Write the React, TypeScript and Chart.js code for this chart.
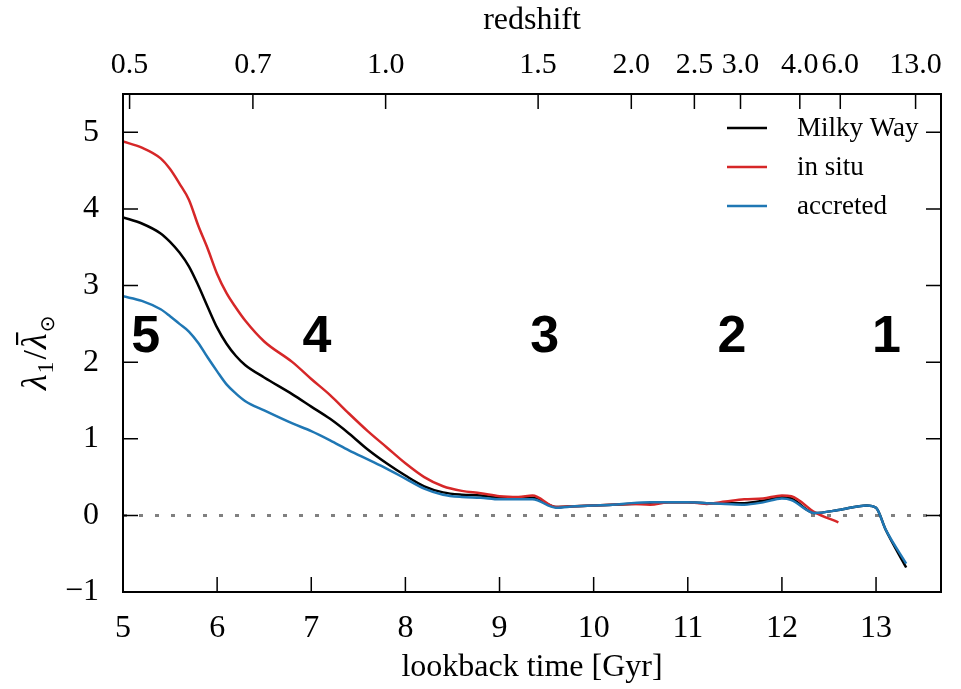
import React, { useEffect, useRef } from "react";
import { Chart, registerables } from "chart.js";

Chart.register(...registerables);

// ---- data ----
const lookbackTime = [
  5.0, 5.2, 5.4, 5.5, 5.6, 5.7, 5.8, 5.9, 6.0, 6.1, 6.2, 6.3, 6.5, 6.8, 7.0, 7.2, 7.4, 7.6, 7.8, 8.0,
  8.2, 8.4, 8.6, 8.8, 9.0, 9.2, 9.35, 9.6, 9.8, 10.0, 10.2, 10.4, 10.6, 10.8, 11.0, 11.2, 11.4, 11.6,
  11.8, 12.0, 12.1, 12.35, 12.6, 12.9, 13.0, 13.1, 13.32,
];
const milkyWay = [
  3.89, 3.81, 3.68, 3.57, 3.43, 3.25, 3.0, 2.72, 2.45, 2.24, 2.08, 1.96, 1.8, 1.58, 1.42, 1.26, 1.07,
  0.86, 0.68, 0.52, 0.38, 0.3, 0.27, 0.26, 0.23, 0.22, 0.23, 0.11, 0.12, 0.13, 0.14, 0.15, 0.16, 0.17,
  0.17, 0.16, 0.16, 0.16, 0.19, 0.24, 0.22, 0.03, 0.07, 0.13, 0.1, -0.18, -0.68,
];
const inSitu = [
  4.88, 4.8, 4.66, 4.52, 4.33, 4.12, 3.78, 3.48, 3.15, 2.9, 2.71, 2.54, 2.27, 2.0, 1.78, 1.57, 1.33,
  1.1, 0.89, 0.68, 0.5, 0.38, 0.32, 0.29, 0.25, 0.24, 0.26, 0.11, 0.12, 0.13, 0.14, 0.15, 0.14, 0.17,
  0.17, 0.15, 0.18, 0.21, 0.22, 0.26, 0.25, 0.04, -0.09, null, null, null, null,
];
const accreted = [
  2.86, 2.8, 2.69, 2.6, 2.5, 2.4, 2.25, 2.06, 1.88, 1.71, 1.59, 1.49, 1.37, 1.2, 1.1, 0.98, 0.85, 0.73,
  0.61, 0.48, 0.35, 0.27, 0.24, 0.23, 0.21, 0.21, 0.21, 0.1, 0.12, 0.13, 0.14, 0.16, 0.17, 0.17, 0.17,
  0.16, 0.15, 0.14, 0.17, 0.22, 0.2, 0.03, 0.07, 0.13, 0.1, -0.18, -0.63,
];

const xTicks = [5, 6, 7, 8, 9, 10, 11, 12, 13];
const yTicks = [-1, 0, 1, 2, 3, 4, 5];
const redshiftLabels = ["0.5", "0.7", "1.0", "1.5", "2.0", "2.5", "3.0", "4.0", "6.0", "13.0"];
const redshiftAt = [5.07, 6.38, 7.79, 9.41, 10.4, 11.07, 11.56, 12.19, 12.62, 13.42];

const regionLabels = ["5", "4", "3", "2", "1"];
const regionX = [5.24, 7.06, 9.48, 11.47, 13.11];
const regionY = [2.13, 2.13, 2.13, 2.13, 2.13];

const seriesNames = ["Milky Way", "in situ", "accreted"];
const seriesColors = ["#000000", "#d62728", "#1f77b4"];

const X_MIN = 5;
const X_MAX = 13.69;
const Y_MIN = -1;
const Y_MAX = 5.5;

const SERIF = "'Liberation Serif', 'Times New Roman', serif";
const SANS = "'Liberation Sans', Arial, sans-serif";

const pts = (ys: (number | null)[]) =>
  lookbackTime
    .map((x, i) => ({ x, y: ys[i] }))
    .filter((p) => p.y !== null) as { x: number; y: number }[];

const overlay = {
  id: "overlay",
  afterDatasetsDraw(chart: any) {
    const ctx = chart.ctx as CanvasRenderingContext2D;
    const { left, right, top, bottom } = chart.chartArea;
    const xs = chart.scales.x;
    const x2 = chart.scales.x2;
    const ys = chart.scales.y;
    ctx.save();

    // region numbers
    ctx.fillStyle = "#000";
    ctx.font = `bold 52px ${SANS}`;
    ctx.textAlign = "center";
    ctx.textBaseline = "alphabetic";
    regionLabels.forEach((t, i) => {
      ctx.fillText(t, xs.getPixelForValue(regionX[i]), ys.getPixelForValue(regionY[i]));
    });

    // legend
    ctx.font = `27px ${SERIF}`;
    ctx.textAlign = "left";
    ctx.textBaseline = "middle";
    seriesNames.forEach((name, i) => {
      const yy = top + 34 + i * 39;
      ctx.strokeStyle = seriesColors[i];
      ctx.lineWidth = 2.5;
      ctx.beginPath();
      ctx.moveTo(right - 214, yy);
      ctx.lineTo(right - 174, yy);
      ctx.stroke();
      ctx.fillStyle = "#000";
      ctx.fillText(name, right - 144, yy + 1);
    });

    // frame
    ctx.strokeStyle = "#000";
    ctx.lineWidth = 2;
    ctx.strokeRect(left, top, right - left, bottom - top);

    // inward ticks
    const TL = 15;
    ctx.lineWidth = 1.5;
    ctx.beginPath();
    xs.ticks.forEach((t: any) => {
      const px = xs.getPixelForValue(t.value);
      ctx.moveTo(px, bottom);
      ctx.lineTo(px, bottom - TL);
    });
    x2.ticks.forEach((t: any) => {
      const px = x2.getPixelForValue(t.value);
      ctx.moveTo(px, top);
      ctx.lineTo(px, top + TL);
    });
    ys.ticks.forEach((t: any) => {
      const py = ys.getPixelForValue(t.value);
      ctx.moveTo(left, py);
      ctx.lineTo(left + TL, py);
      ctx.moveTo(right, py);
      ctx.lineTo(right - TL, py);
    });
    ctx.stroke();
    ctx.restore();
  },
  afterDraw(chart: any) {
    const ctx = chart.ctx as CanvasRenderingContext2D;
    ctx.save();
    ctx.translate(46, 390);
    ctx.rotate(-Math.PI / 2);
    ctx.fillStyle = "#000";
    ctx.textBaseline = "alphabetic";
    ctx.textAlign = "left";
    let x = 0;
    ctx.font = `italic 36px ${SERIF}`;
    ctx.fillText("λ", x, 0);
    x += ctx.measureText("λ").width + 1;
    ctx.font = `24px ${SERIF}`;
    ctx.fillText("1", x, 7);
    x += ctx.measureText("1").width + 2;
    ctx.font = `34px ${SERIF}`;
    ctx.fillText("/", x, 0);
    x += ctx.measureText("/").width + 1;
    ctx.font = `italic 36px ${SERIF}`;
    const lw = ctx.measureText("λ").width;
    ctx.fillText("λ", x, 0);
    ctx.fillRect(x + 4, -30, lw - 3, 2.2);
    x += lw + 1;
    ctx.font = `20px 'DejaVu Sans', ${SERIF}`;
    ctx.fillText("⊙", x, 8);
    ctx.restore();
  },
};

export default function App() {
  const ref = useRef<HTMLCanvasElement>(null);
  useEffect(() => {
    const canvas = ref.current;
    if (!canvas) return;
    const tickFont = { family: SERIF, size: 32 };
    const topTickFont = { family: SERIF, size: 30 };
    const chart = new Chart(canvas, {
      type: "line",
      data: {
        datasets: [
          {
            label: "zero",
            data: [
              { x: X_MIN, y: 0 },
              { x: X_MAX, y: 0 },
            ],
            borderColor: "#808080",
            borderWidth: 3,
            borderDash: [4, 12],
            pointRadius: 0,
            order: 10,
          },
          {
            label: seriesNames[0],
            data: pts(milkyWay),
            borderColor: seriesColors[0],
            borderWidth: 2.5,
            pointRadius: 0,
            cubicInterpolationMode: "monotone",
            order: 3,
          },
          {
            label: seriesNames[1],
            data: pts(inSitu),
            borderColor: seriesColors[1],
            borderWidth: 2.5,
            pointRadius: 0,
            cubicInterpolationMode: "monotone",
            order: 2,
          },
          {
            label: seriesNames[2],
            data: pts(accreted),
            borderColor: seriesColors[2],
            borderWidth: 2.5,
            pointRadius: 0,
            cubicInterpolationMode: "monotone",
            order: 1,
          },
        ] as any,
      },
      options: {
        responsive: false,
        maintainAspectRatio: false,
        animation: false,
        layout: { padding: { right: 20 } },
        plugins: { legend: { display: false }, tooltip: { enabled: false } },
        scales: {
          x: {
            type: "linear",
            position: "bottom",
            min: X_MIN,
            max: X_MAX,
            afterBuildTicks: (s: any) => {
              s.ticks = xTicks.map((v) => ({ value: v }));
            },
            afterFit: (s: any) => {
              s.height = 97;
            },
            ticks: { font: tickFont, color: "#000", padding: 9, autoSkip: false, maxRotation: 0 },
            grid: { display: false },
            border: { display: false },
            title: {
              display: true,
              text: "lookback time [Gyr]",
              font: tickFont,
              color: "#000",
              padding: { top: 0, bottom: 2 },
            },
          },
          x2: {
            type: "linear",
            position: "top",
            min: X_MIN,
            max: X_MAX,
            afterBuildTicks: (s: any) => {
              s.ticks = redshiftAt.map((v) => ({ value: v }));
            },
            afterFit: (s: any) => {
              s.height = 94;
            },
            ticks: {
              font: topTickFont,
              color: "#000",
              padding: 3,
              autoSkip: false,
              maxRotation: 0,
              callback: (_v: any, i: number) => redshiftLabels[i],
            },
            grid: { display: false },
            border: { display: false },
            title: {
              display: true,
              text: "redshift",
              font: tickFont,
              color: "#000",
              padding: { top: 1, bottom: 0 },
            },
          },
          y: {
            type: "linear",
            position: "left",
            min: Y_MIN,
            max: Y_MAX,
            afterBuildTicks: (s: any) => {
              s.ticks = yTicks.map((v) => ({ value: v }));
            },
            afterFit: (s: any) => {
              s.width = 123;
            },
            ticks: {
              font: tickFont,
              color: "#000",
              padding: 16,
              autoSkip: false,
              callback: (v: any) => (v < 0 ? "\u2212" + Math.abs(v) : String(v)),
            },
            grid: { display: false },
            border: { display: false },
          },
        },
      } as any,
      plugins: [overlay],
    });
    return () => chart.destroy();
  }, []);
  return (
    <div style={{ position: "absolute", left: 0, top: 0, width: 961, height: 689 }}>
      <canvas ref={ref} width={961} height={689} style={{ display: "block" }} />
    </div>
  );
}
